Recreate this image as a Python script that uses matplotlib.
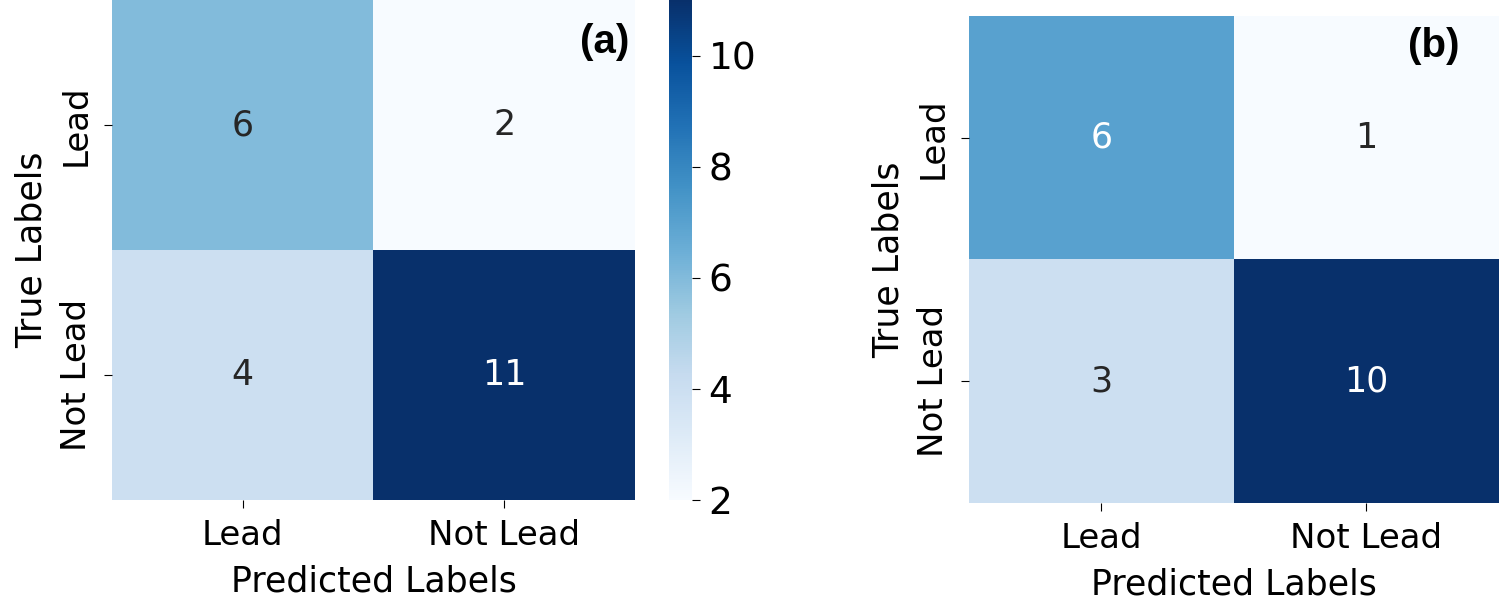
"""Confusion matrices (a) and (b) side by side."""

import matplotlib
matplotlib.use("Agg")
import matplotlib.pyplot as plt
import numpy as np
import seaborn as sns

class_names = ["Lead", "Not Lead"]
cm_a = np.array([[6, 2],
                 [4, 11]])
cm_b = np.array([[6, 1],
                 [3, 10]])
cbar_ticks = [2, 4, 6, 8, 10]

fig = plt.figure(figsize=(15.03, 6.08), dpi=100)
ax_a = fig.add_axes([0.0745, 0.1776, 0.348, 0.8224])
cax = fig.add_axes([0.4451, 0.1776, 0.0153, 0.8224])
ax_b = fig.add_axes([0.6447, 0.1727, 0.3526, 0.801])

tick_fs = 24.5
annot_fs = 25
label_fs = 25

sns.heatmap(cm_a, annot=True, fmt="d", cmap="Blues", ax=ax_a, cbar_ax=cax,
            xticklabels=class_names, yticklabels=class_names,
            annot_kws={"fontsize": annot_fs})
sns.heatmap(cm_b, annot=True, fmt="d", cmap="Blues", ax=ax_b, cbar=False,
            xticklabels=class_names, yticklabels=class_names,
            annot_kws={"fontsize": annot_fs})

for ax, tag, tx, ty in [(ax_a, "(a)", 0.99, 0.955), (ax_b, "(b)", 0.925, 0.977)]:
    ax.set_xlabel("Predicted Labels", fontsize=label_fs, labelpad=9)
    ax.set_ylabel("True Labels", fontsize=label_fs, labelpad=8)
    ax.tick_params(axis="both", labelsize=tick_fs, length=6, pad=8)
    plt.setp(ax.get_yticklabels(), rotation=90, va="center")
    ax.text(tx, ty, tag, transform=ax.transAxes, ha="right", va="top",
            fontsize=29, fontweight="bold", family="Liberation Sans")

cax.set_yticks(cbar_ticks)
cax.tick_params(labelsize=27, length=6, pad=6)

fig.savefig("out.png", dpi=100)
